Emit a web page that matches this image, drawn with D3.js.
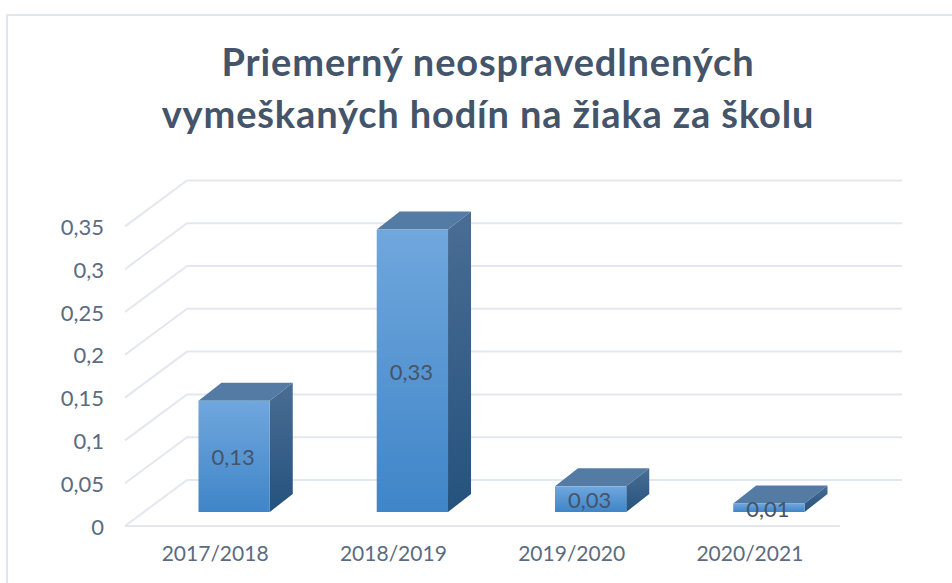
<!DOCTYPE html>
<html>
<head>
<meta charset="utf-8">
<script src="https://cdn.jsdelivr.net/npm/d3@7"></script>
<style>
  html, body { margin: 0; padding: 0; background: #fff; overflow: hidden; }
  text { font-family: Lato, "Open Sans", sans-serif; }
</style>
</head>
<body>
<div id="chart"></div>
<script>
const categories = ['2017/2018', '2018/2019', '2019/2020', '2020/2021'];
const values = [0.13, 0.33, 0.03, 0.01];
const tickValues = [0, 0.05, 0.1, 0.15, 0.2, 0.25, 0.3, 0.35];
const titleLines = ['Priemerný neospravedlnených', 'vymeškaných hodín na žiaka za školu'];

const width = 952;
const height = 583;

// floor of the 3D box, front edge
const plot = { left: 125, right: 840, bottom: 526, top: 226.4 };
// how far the back wall sits from the front edge
const wall = { dx: 62, dy: -46 };
// bars stand a bit inside the floor, and have their own depth
const barShift = { dx: 20, dy: -14 };
const barDepth = { dx: 23, dy: -18 };

const comma = v => String(v).replace('.', ',');

const svg = d3.select('#chart')
    .append('svg')
    .attr('width', width)
    .attr('height', height);

const defs = svg.append('defs');

function gradient(id, top, bottom) {
    const g = defs.append('linearGradient')
        .attr('id', id)
        .attr('x1', 0).attr('y1', 0)
        .attr('x2', 0).attr('y2', 1);
    g.append('stop').attr('offset', '0%').attr('stop-color', top);
    g.append('stop').attr('offset', '100%').attr('stop-color', bottom);
}
gradient('front', '#70a7dd', '#3f85c8');
gradient('side', '#4a6d93', '#25527e');

// Frame
svg.append('rect')
    .attr('x', 7)
    .attr('y', 15)
    .attr('width', 1000)
    .attr('height', 1000)
    .attr('fill', '#fff')
    .attr('stroke', '#e1e6ee')
    .attr('stroke-width', 2);

// Title
svg.append('g')
    .selectAll('text')
    .data(titleLines)
    .join('text')
        .attr('x', 488)
        .attr('y', (d, i) => 76 + i * 52)
        .attr('text-anchor', 'middle')
        .attr('font-size', 38)
        .attr('font-weight', 700)
        .attr('letter-spacing', 0.85)
        .attr('fill', '#44546a')
        .text(d => d);

const x = d3.scaleBand()
    .domain(categories)
    .range([plot.left, plot.right - 2])
    .paddingInner(0.6)
    .paddingOuter(0.3);

const y = d3.scaleLinear()
    .domain([0, 0.35])
    .range([plot.bottom, plot.top]);

// Gridlines on floor side and back wall
const grid = svg.append('g')
    .attr('fill', 'none')
    .attr('stroke', '#e3e7ef')
    .attr('stroke-width', 2);

grid.selectAll('path')
    .data(tickValues)
    .join('path')
        .attr('d', d => {
            const p = d3.path();
            p.moveTo(plot.left, y(d));
            p.lineTo(plot.left + wall.dx, y(d) + wall.dy);
            p.lineTo(plot.right + wall.dx, y(d) + wall.dy);
            return p.toString();
        });

// floor front edge
grid.append('line')
    .attr('x1', plot.left)
    .attr('x2', plot.right)
    .attr('y1', y(0))
    .attr('y2', y(0));

// Axes
function yAxis(g) {
    g.attr('transform', 'translate(110,1)')
        .call(d3.axisLeft(y).tickValues(tickValues).tickFormat(comma).tickSize(0).tickPadding(6))
        .call(g => g.select('.domain').remove());
    g.selectAll('text')
        .attr('font-size', 22)
        .attr('fill', '#5b6b80')
        .style('font-family', 'Lato, "Open Sans", sans-serif');
}

function xAxis(g) {
    g.attr('transform', `translate(1,${plot.bottom})`)
        .call(d3.axisBottom(x).tickSize(0).tickPadding(20))
        .call(g => g.select('.domain').remove());
    g.selectAll('text')
        .attr('font-size', 21)
        .attr('fill', '#5b6b80')
        .style('font-family', 'Lato, "Open Sans", sans-serif');
}

svg.append('g').call(yAxis);
svg.append('g').call(xAxis);

// Bars
const barX = d => x(d.name) + barShift.dx;
const barTop = d => y(d.value) + barShift.dy;
const barBottom = y(0) + barShift.dy;

const rows = categories.map((name, i) => ({ name, value: values[i] }));

const bars = svg.append('g')
    .selectAll('g')
    .data(rows)
    .join('g');

// top face
bars.append('path')
    .attr('fill', '#547ba3')
    .attr('d', d => {
        const x0 = barX(d), x1 = x0 + x.bandwidth(), t = barTop(d);
        return `M${x0},${t}L${x0 + barDepth.dx},${t + barDepth.dy}L${x1 + barDepth.dx},${t + barDepth.dy}L${x1},${t}Z`;
    });

// side face
bars.append('path')
    .attr('fill', 'url(#side)')
    .attr('d', d => {
        const x1 = barX(d) + x.bandwidth(), t = barTop(d);
        return `M${x1},${t}L${x1 + barDepth.dx},${t + barDepth.dy}L${x1 + barDepth.dx},${barBottom + barDepth.dy}L${x1},${barBottom}Z`;
    });

// front face
bars.append('rect')
    .attr('x', barX)
    .attr('y', barTop)
    .attr('width', x.bandwidth())
    .attr('height', d => barBottom - barTop(d))
    .attr('fill', 'url(#front)');

// Value labels
bars.append('text')
    .attr('x', d => barX(d) + x.bandwidth() / 2 - 1)
    .attr('y', d => (barTop(d) + barBottom) / 2 + 9)
    .attr('text-anchor', 'middle')
    .attr('font-size', 22)
    .attr('fill', '#44546a')
    .text(d => comma(d.value));
</script>
</body>
</html>
